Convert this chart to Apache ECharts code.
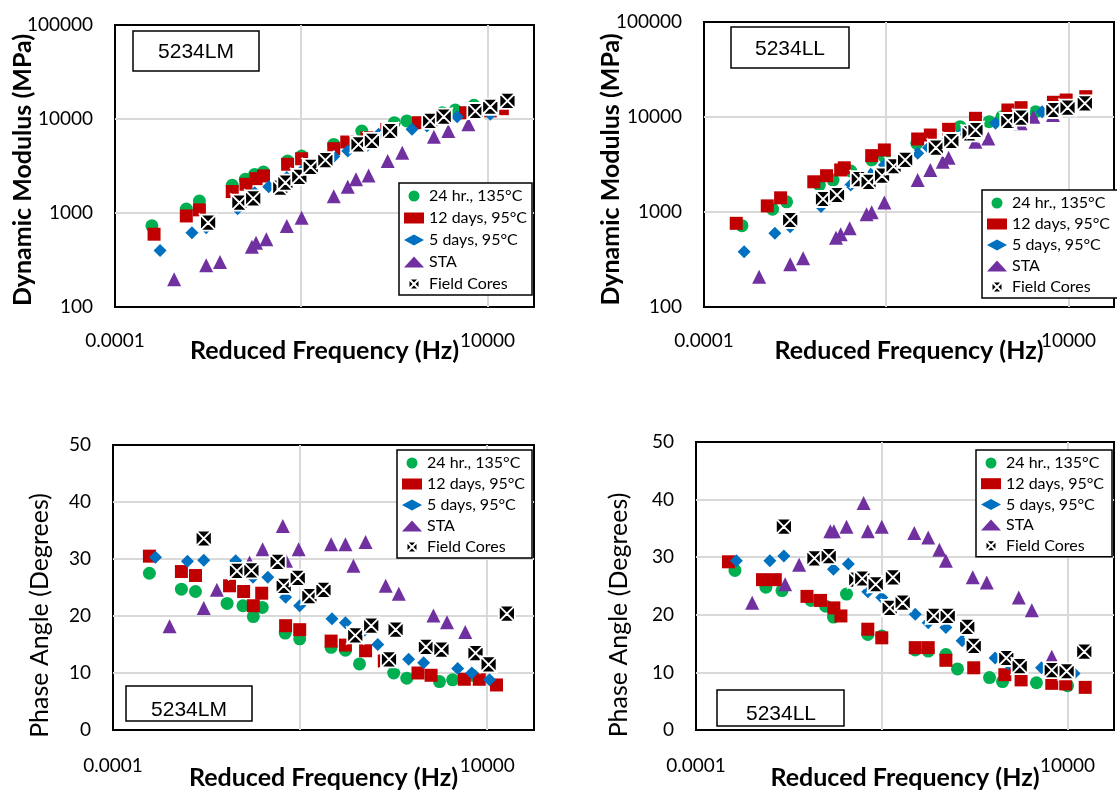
<!DOCTYPE html>
<html><head><meta charset="utf-8">
<script src="https://cdn.jsdelivr.net/npm/echarts@6/dist/echarts.min.js"></script>
<style>html,body{margin:0;padding:0;background:#fff}#c{width:1117px;height:791px}</style>
</head><body><div id="c"></div>
<script>
// ---------- categories / labels ----------
const seriesNames = ['24 hr., 135°C', '12 days, 95°C', '5 days, 95°C', 'STA', 'Field Cores'];
const sampleLabels = ['5234LM', '5234LL', '5234LM', '5234LL'];
// frequency tick labels by decade exponent (0.01, 1, 100 sit under the axis title)
const freqTickLabels = { '-4': '0.0001', '4': '10000' };
const modulusTickLabels = { '2': '100', '3': '1000', '4': '10000', '5': '100000' };

// ---------- data: [reduced frequency (Hz), value] ----------
// 5234LM dynamic modulus (MPa)
const lmMod24 = [[0.00062,730],[0.0034,1100],[0.0065,1340],[0.033,1970],[0.063,2280],[0.10,2570],[0.155,2730],[0.51,3570],[1.02,4040],[5.0,5370],[20,7450],[100,9130],[186,9530],[1070,11660],[2040,12470],[5130,14000]];
const lmMod12 = [[0.00069,595],[0.0034,930],[0.0065,1080],[0.033,1690],[0.065,2020],[0.107,2320],[0.155,2480],[0.51,3300],[1.02,3780],[5.0,4830],[9.5,5690],[25.7,6300],[69,7760],[331,9130],[3390,11660],[11500,12200],[20900,12870]];
const lmMod5 = [[0.00093,400],[0.0045,617],[0.0091,697],[0.043,1110],[0.10,1640],[0.20,1900],[0.49,2380],[1.02,2800],[5.0,3980],[10,4570],[25.7,5170],[46,6870],[240,7760],[501,8430],[2240,10590],[11500,11220]];
const lmModSTA = [[0.00186,197],[0.0091,278],[0.018,301],[0.087,438],[0.107,483],[0.178,525],[0.49,728],[1.02,891],[5.0,1510],[10,1900],[15,2280],[28,2510],[72,3570],[148,4380],[708,6480],[1445,7450],[3890,8780]];
const lmModField = [[0.01,789],[0.047,1290],[0.093,1430],[0.355,1860],[0.457,2100],[0.91,2420],[1.6,3100],[3.3,3660],[17,5370],[33,5840],[81,7450],[589,9530],[1150,10590],[5500,12160],[11500,13500],[26900,15560]];
// 5234LL dynamic modulus (MPa)
const llMod24 = [[0.00068,718],[0.0032,1070],[0.0065,1280],[0.034,1920],[0.068,2170],[0.166,2700],[0.48,3530],[0.91,3820],[4.7,5280],[41.7,7910],[182,8920],[347,10070],[1905,11370]];
const llMod12 = [[0.00051,760],[0.00245,1160],[0.0048,1410],[0.0257,2080],[0.049,2410],[0.10,2770],[0.12,2920],[0.48,3920],[0.91,4500],[4.9,5870],[9.3,6460],[23.4,7420],[91,9690],[468,11850],[912,12540],[4680,14290],[8910,15100],[24000,16370]];
const llMod5 = [[0.00076,382],[0.0036,597],[0.0078,700],[0.037,1140],[0.085,1445],[0.166,1920],[0.457,2490],[0.91,3120],[4.9,4150],[8.5,4750],[20.4,5590],[49,7000],[251,8590],[2630,11370],[12300,13370]];
const llModSTA = [[0.00162,208],[0.0078,281],[0.015,326],[0.079,537],[0.10,582],[0.158,673],[0.37,946],[0.48,994],[0.91,1260],[4.9,2170],[9.3,2770],[17.4,3390],[23.4,3730],[91,5500],[174,5950],[891,8590],[1700,10070],[4570,10480]];
const llModField = [[0.0078,824],[0.041,1370],[0.083,1510],[0.25,2220],[0.41,2080],[0.81,2410],[1.45,3030],[2.6,3530],[12.3,4750],[26.9,5590],[67.6,6730],[91,7300],[479,9080],[912,9840],[4680,11850],[9550,12540],[22900,13930]];
// 5234LM phase angle (degrees)
const lmPa24 = [[0.0006,27.5],[0.0029,24.7],[0.0058,24.3],[0.0275,22.2],[0.060,21.8],[0.155,21.5],[0.10,19.9],[0.48,17.0],[0.98,16.0],[4.6,14.5],[9.3,14.0],[18.6,11.6],[100,10.0],[191,9.1],[955,8.5],[1820,8.8],[4790,9.6]];
const lmPa12 = [[0.0006,30.5],[0.0029,27.8],[0.0058,27.1],[0.031,25.3],[0.062,24.3],[0.151,24.0],[0.10,21.8],[0.49,18.3],[0.98,17.6],[4.6,15.6],[9.3,14.9],[25.1,13.9],[63,12.1],[331,10.0],[631,9.6],[3240,8.9],[6760,8.9],[15800,7.9]];
const lmPa5 = [[0.00081,30.3],[0.0039,29.6],[0.0087,29.8],[0.042,29.7],[0.098,26.8],[0.204,26.8],[0.49,23.3],[0.98,21.8],[4.8,19.5],[9.3,18.8],[24,17.5],[45.7,15.0],[209,12.4],[437,11.8],[2340,10.8],[4680,10.0],[11200,8.8]];
const lmPaSTA = [[0.00162,18.2],[0.0087,21.4],[0.0166,24.6],[0.083,29.4],[0.158,31.7],[0.427,35.8],[0.50,29.7],[0.93,31.7],[4.6,32.6],[9.3,32.6],[13.8,28.8],[25.1,33.0],[67.6,25.3],[129,23.9],[708,20.1],[1380,18.9],[3390,17.2]];
const lmPaField = [[0.0087,33.6],[0.0447,27.9],[0.091,28.0],[0.331,29.5],[0.447,25.3],[0.89,26.7],[1.58,23.5],[3.16,24.6],[15.1,16.6],[33.1,18.3],[79.4,12.4],[110,17.6],[490,14.6],[1050,14.1],[5620,13.5],[10700,11.5],[26300,20.4]];
// 5234LL phase angle (degrees)
const llPa24 = [[0.00069,27.7],[0.0032,24.8],[0.0071,24.2],[0.030,22.5],[0.062,21.5],[0.091,19.6],[0.174,23.6],[0.50,16.6],[1.0,16.3],[5.25,13.9],[10,13.7],[24,13.1],[42.7,10.6],[209,9.1],[398,8.4],[2140,8.2],[10000,7.7]];
const llPa12 = [[0.0005,29.2],[0.0027,26.1],[0.0051,26.1],[0.0245,23.2],[0.048,22.5],[0.093,21.2],[0.132,19.8],[0.50,17.5],[1.0,16.0],[5.25,14.3],[10,14.3],[24,12.1],[95.5,10.8],[447,9.6],[1000,8.7],[4570,8.1],[9120,8.0],[24000,7.4]];
const llPa5 = [[0.00074,29.4],[0.0039,29.4],[0.0078,30.2],[0.037,29.9],[0.091,27.9],[0.191,28.8],[0.50,24.0],[1.0,23.0],[5.25,20.1],[10,18.6],[24,17.8],[53.7,15.5],[275,12.5],[525,11.5],[2750,10.8],[13800,9.8]];
const llPaSTA = [[0.00162,22.1],[0.0083,25.3],[0.0166,28.7],[0.078,34.5],[0.093,34.5],[0.174,35.3],[0.407,39.4],[0.50,34.5],[1.0,35.3],[5.0,34.2],[10,33.4],[17.4,31.3],[24,29.4],[91,26.5],[182,25.6],[891,23.0],[1700,20.8],[4570,12.7]];
const llPaField = [[0.0078,35.3],[0.0355,29.8],[0.072,30.2],[0.282,26.1],[0.38,26.3],[0.74,25.3],[1.74,26.5],[1.48,21.2],[2.82,22.1],[13.2,19.8],[26.3,19.8],[69.2,17.9],[95.5,14.6],[479,12.5],[933,11.1],[4570,10.4],[9550,10.2],[22900,13.6]];

const panelData = [
  [lmMod24, lmMod12, lmMod5, lmModSTA, lmModField],
  [llMod24, llMod12, llMod5, llModSTA, llModField],
  [lmPa24, lmPa12, lmPa5, lmPaSTA, lmPaField],
  [llPa24, llPa12, llPa5, llPaSTA, llPaField]
];

// ---------- styling ----------
const FONT = 'Lato, "Noto Sans", sans-serif';
const fieldPath = 'path://M0,0L10,0L5,5Z M10,0L10,10L5,5Z M10,10L0,10L5,5Z M0,10L0,0L5,5Z';
const seriesColors = ['#00B050', '#C00000', '#0070C0', '#7030A0', '#000000'];
const seriesSymbols = ['circle', 'rect', 'diamond', 'triangle', fieldPath];
const symbolSizes = [13, 13, 13, 14, 16];
const GRID_GRAY = '#d9d9d9';

const grids = [
  { left: 115, top: 25, width: 419, height: 282 },
  { left: 704, top: 22, width: 425, height: 285 },
  { left: 113, top: 445, width: 421, height: 287 },
  { left: 696, top: 442, width: 427, height: 289 }
];
const yNameGap = [80, 81, 61, 65];
const yNameShift = [8, 10, 56, 58];
const xLabelMargin = [24, 24, 26, 26];
const xNameGap = [31, 31, 35, 35];
const legendPos = [
  { left: 399, top: 183, itemGap: 6, padRight: 5 },
  { left: 982, top: 190, itemGap: 5, padRight: 30 },
  { left: 397, top: 450, itemGap: 5, padRight: 7 },
  { left: 976, top: 450, itemGap: 4.7, padRight: 8 }
];
const labelBoxes = [
  { x: 133, y: 31, w: 126, h: 40, tx: 196, ty: 52 },
  { x: 731, y: 27, w: 118, h: 41, tx: 790, ty: 49 },
  { x: 126, y: 686, w: 126, h: 35, tx: 189, ty: 710 },
  { x: 717, y: 690, w: 127, h: 36, tx: 781, ty: 714 }
];

const grid = grids.map(g => Object.assign({ show: true, borderColor: '#000', borderWidth: 2, backgroundColor: 'transparent' }, g));

const xAxis = grids.map((g, i) => ({
  type: 'log', logBase: 10, gridIndex: i, min: 0.0001, max: 100000, interval: 2,
  axisLine: { show: false }, axisTick: { show: false },
  // gridlines every second decade (0.01, 1, 100, 10000)
  splitLine: { show: true, showMinLine: false, showMaxLine: false, lineStyle: { color: ['transparent', GRID_GRAY], width: 2 } },
  axisLabel: {
    margin: xLabelMargin[i], fontSize: 19, color: '#000', fontFamily: FONT,
    formatter: v => freqTickLabels[String(Math.round(Math.log10(v)))] || ''
  },
  name: 'Reduced Frequency (Hz)', nameLocation: 'middle', nameGap: xNameGap[i], nameMoveOverlap: false,
  nameTextStyle: { fontSize: 25, fontWeight: 'bold', color: '#000', fontFamily: FONT }
}));

const yAxis = grids.map((g, i) => {
  const isMod = i < 2;
  const base = {
    gridIndex: i,
    axisLine: { show: false }, axisTick: { show: false },
    splitLine: { show: true, showMinLine: false, showMaxLine: false, lineStyle: { color: GRID_GRAY, width: 2 } },
    name: isMod ? 'Dynamic Modulus (MPa)' : 'Phase Angle (Degrees)',
    nameLocation: 'middle', nameRotate: 90, nameGap: yNameGap[i], nameMoveOverlap: false,
    nameTextStyle: { fontSize: 25, fontWeight: isMod ? 'bold' : 'normal', color: '#000', fontFamily: FONT, padding: [0, yNameShift[i], 0, 0] }
  };
  if (isMod) {
    return Object.assign(base, {
      type: 'log', logBase: 10, min: 100, max: 100000, interval: 1,
      axisLabel: { margin: 22, fontSize: 19, color: '#000', fontFamily: FONT,
        formatter: v => modulusTickLabels[String(Math.round(Math.log10(v)))] || '' }
    });
  }
  return Object.assign(base, {
    type: 'value', min: 0, max: 50, interval: 10,
    axisLabel: { margin: 22, fontSize: 19, color: '#000', fontFamily: FONT }
  });
});

const series = [];
panelData.forEach((group, p) => {
  group.forEach((d, s) => {
    series.push({
      type: 'scatter', name: seriesNames[s], xAxisIndex: p, yAxisIndex: p,
      data: d, symbol: seriesSymbols[s], symbolSize: symbolSizes[s], symbolKeepAspect: true,
      itemStyle: s === 4 ? { color: '#000', borderColor: '#fff', borderWidth: 1.8, opacity: 1 } : { color: seriesColors[s], opacity: 1 },
      emphasis: { disabled: true }, animation: false
    });
  });
});

const legend = legendPos.map(l => ({
  left: l.left, top: l.top, orient: 'vertical', itemGap: l.itemGap,
  itemWidth: 20, itemHeight: 11, padding: [5, l.padRight, 3, 5],
  borderColor: '#000', borderWidth: 1.5, backgroundColor: '#fff',
  data: seriesNames, selectedMode: false,
  textStyle: { fontSize: 16, lineHeight: 16, color: '#000', fontFamily: FONT }
}));

const graphic = [];
labelBoxes.forEach((b, i) => {
  graphic.push({ type: 'rect', shape: { x: b.x, y: b.y, width: b.w, height: b.h }, style: { fill: '#fff', stroke: '#000', lineWidth: 1.5 }, z: 50 });
  graphic.push({ type: 'text', x: b.tx, y: b.ty, style: { text: sampleLabels[i], fontSize: 21, fontFamily: '"Liberation Sans", Arial, sans-serif', fill: '#000', align: 'center', verticalAlign: 'middle' }, z: 51 });
});

const chart = echarts.init(document.getElementById('c'), null, { renderer: 'canvas', width: 1117, height: 791 });
chart.setOption({ animation: false, backgroundColor: '#fff', grid, xAxis, yAxis, series, legend, graphic });
</script>
</body></html>
